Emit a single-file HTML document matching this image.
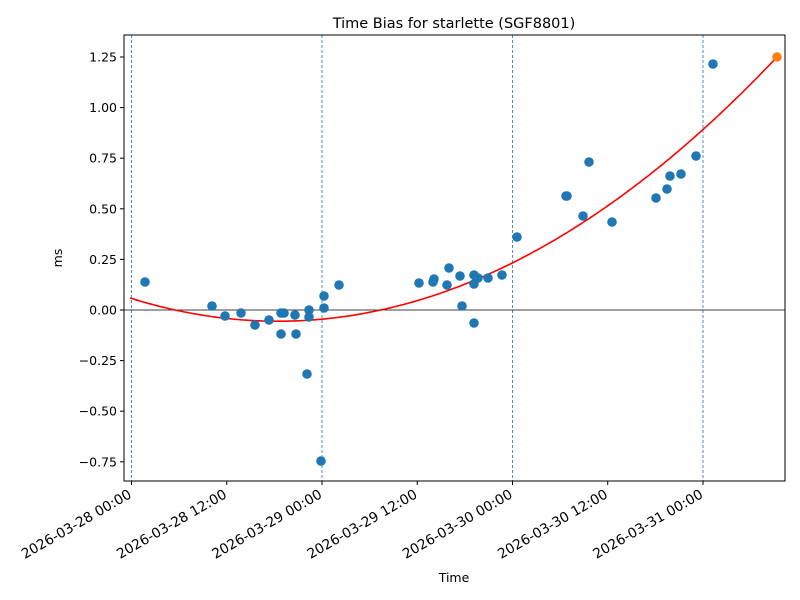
<!DOCTYPE html>
<html><head><meta charset="utf-8"><style>
body{margin:0;background:#fff}
svg{display:block;font-family:"DejaVu Sans","Liberation Sans",sans-serif}
</style></head><body>
<svg id="s" width="800" height="600" viewBox="0 0 800 600" xmlns="http://www.w3.org/2000/svg">
<rect width="800" height="600" fill="#fff"/>
<text x="454" y="28" font-size="14.5" text-anchor="middle">Time Bias for starlette (SGF8801)</text>
<g id="grid" stroke="#1f77b4" stroke-width="0.8" stroke-dasharray="3,2">
<line x1="131.5" y1="35" x2="131.5" y2="481"/>
<line x1="322" y1="35" x2="322" y2="481"/>
<line x1="512.5" y1="35" x2="512.5" y2="481"/>
<line x1="703" y1="35" x2="703" y2="481"/>
</g>
<line x1="124" y1="310" x2="785" y2="310" stroke="#000" stroke-width="0.8"/>
<polyline id="curve" fill="none" stroke="red" stroke-width="1.6"/>
<g id="pts" fill="#1f77b4"></g>
<circle cx="777" cy="57" r="4.8" fill="#ff7f0e"/>
<rect x="124" y="35" width="661" height="446" fill="none" stroke="#000" stroke-width="1"/>
<g id="yt" font-size="12.5" text-anchor="end"></g>
<g id="xt" font-size="13.8" text-anchor="end"></g>
<text x="454" y="582" font-size="12.5" text-anchor="middle">Time</text>
<text transform="translate(62,258) rotate(-90)" font-size="12.5" text-anchor="middle">ms</text>
</svg>
<script>
var NS="http://www.w3.org/2000/svg";
function el(t,a,p,txt){var e=document.createElementNS(NS,t);for(var k in a)e.setAttribute(k,a[k]);if(txt)e.textContent=txt;p.appendChild(e);return e;}
var pts=[[145,282],[212,306],[225,316],[241,313],[255,325],[269,320],[281,313],[284,313],[281,334],[295,315],[296,334],[307,374],[309,310],[309,317],[321,461],[324,308],[324,296],[339,285],[419,283],[433,282],[434,279],[447,285],[449,268],[460,276],[462,306],[474,275],[474,284],[474,323],[478,278],[488,278],[502,275],[517,237],[566,196],[567,196],[583,216],[589,162],[612,222],[656,198],[667,189],[670,176],[681,174],[696,156],[713,64]];
var g=document.getElementById('pts');
pts.forEach(function(p){el('circle',{cx:p[0],cy:p[1],r:4.8},g);});
var X=[130,416,777],Y=[298,301,57];
function f(x){var s=0;for(var i=0;i<3;i++){var l=1;for(var j=0;j<3;j++)if(j!=i)l*=(x-X[j])/(X[i]-X[j]);s+=l*Y[i];}return s;}
var d=[];for(var x=130;x<=777;x+=3)d.push(x+','+f(x).toFixed(1));d.push('777,'+f(777));
document.getElementById('curve').setAttribute('points',d.join(' '));
var yt=document.getElementById('yt');
var ys=["1.25","1.00","0.75","0.50","0.25","0.00","−0.25","−0.50","−0.75"];
for(var i=0;i<9;i++){var y=57+i*50.6;el('line',{x1:120,y1:y,x2:124,y2:y,stroke:'#000'},yt);el('text',{x:117,y:y+4.5},yt,ys[i]);}
var xt=document.getElementById('xt');
var xl=["2026-03-28 00:00","2026-03-28 12:00","2026-03-29 00:00","2026-03-29 12:00","2026-03-30 00:00","2026-03-30 12:00","2026-03-31 00:00"];
for(var i=0;i<7;i++){var x=131.5+i*95.25;el('line',{x1:x,y1:481,x2:x,y2:485,stroke:'#000'},xt);el('text',{transform:'translate('+(x+1)+',497) rotate(-30)'},xt,xl[i]);}
</script>
</body></html>
